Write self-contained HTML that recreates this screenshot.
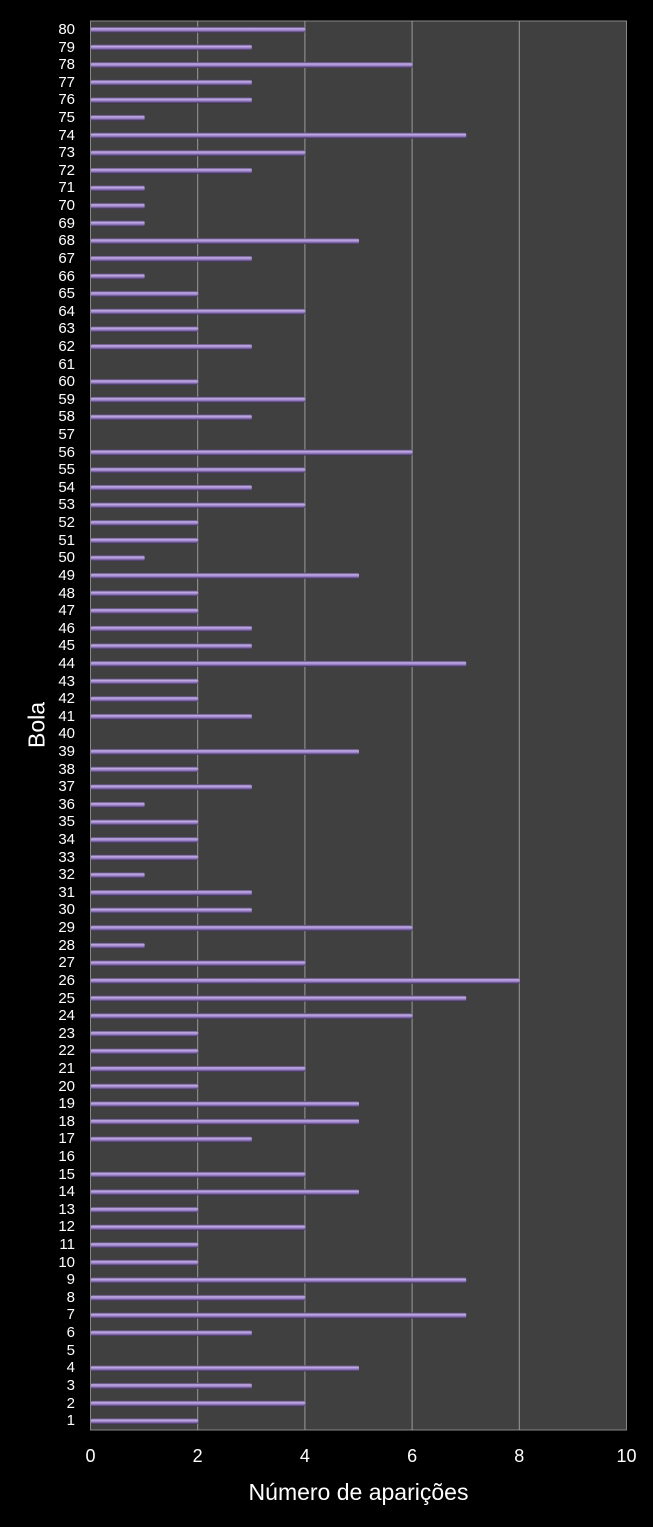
<!DOCTYPE html>
<html><head><meta charset="utf-8"><style>
body{margin:0;background:#000;width:653px;height:1527px;overflow:hidden;font-family:"Liberation Sans",sans-serif;color:#fff;position:relative}
#plot{position:absolute;left:0;top:0}
#labels{position:absolute;left:25px;top:21px;width:50px}
#labels div{height:17.6125px;line-height:17.6125px;text-align:right;font-size:15px}
.xt{position:absolute;top:1446px;font-size:18px;width:40px;margin-left:-20px;text-align:center}
#xtitle{position:absolute;top:1479px;left:90px;width:537px;text-align:center;font-size:23px}
#ytitle{position:absolute;left:37px;top:725px;transform:translate(-50%,-50%) rotate(-90deg);font-size:23px;white-space:nowrap}
</style></head><body>
<svg id="plot" width="653" height="1527">
<defs><linearGradient id="g" x1="0" y1="0" x2="0" y2="1">
<stop offset="0" stop-color="#4a3b66"/><stop offset="0.3" stop-color="#c3aee8"/><stop offset="0.6" stop-color="#9b80c8"/><stop offset="1" stop-color="#3a2d52"/></linearGradient></defs>
<rect x="90.5" y="21" width="536" height="1409" fill="#404040" stroke="#888" stroke-width="1"/>
<g id="grid" stroke="#9a9a9a" stroke-width="1"></g>
<g id="bars"></g>
</svg>
<div id="labels">
<div>80</div><div>79</div><div>78</div><div>77</div><div>76</div><div>75</div><div>74</div><div>73</div><div>72</div><div>71</div><div>70</div><div>69</div><div>68</div><div>67</div><div>66</div><div>65</div><div>64</div><div>63</div><div>62</div><div>61</div><div>60</div><div>59</div><div>58</div><div>57</div><div>56</div><div>55</div><div>54</div><div>53</div><div>52</div><div>51</div><div>50</div><div>49</div><div>48</div><div>47</div><div>46</div><div>45</div><div>44</div><div>43</div><div>42</div><div>41</div><div>40</div><div>39</div><div>38</div><div>37</div><div>36</div><div>35</div><div>34</div><div>33</div><div>32</div><div>31</div><div>30</div><div>29</div><div>28</div><div>27</div><div>26</div><div>25</div><div>24</div><div>23</div><div>22</div><div>21</div><div>20</div><div>19</div><div>18</div><div>17</div><div>16</div><div>15</div><div>14</div><div>13</div><div>12</div><div>11</div><div>10</div><div>9</div><div>8</div><div>7</div><div>6</div><div>5</div><div>4</div><div>3</div><div>2</div><div>1</div>
</div>
<div class="xt" style="left:90.5px">0</div><div class="xt" style="left:197.7px">2</div><div class="xt" style="left:304.9px">4</div><div class="xt" style="left:412.1px">6</div><div class="xt" style="left:519.3px">8</div><div class="xt" style="left:626.5px">10</div>
<div id="xtitle">Número de aparições</div>
<div id="ytitle">Bola</div>
<script>
var v=[2,4,3,5,0,3,7,4,7,2,2,4,2,5,4,0,3,5,5,2,4,2,2,6,7,8,4,1,6,3,3,1,2,2,2,1,3,2,5,0,3,2,2,7,3,3,2,2,5,1,2,2,4,3,4,6,0,3,4,2,0,3,2,4,2,1,3,5,1,1,1,3,4,7,1,3,3,6,3,4];
var ns="http://www.w3.org/2000/svg",u=53.6,x0=90.5;
var g=document.getElementById('grid');
for(var k=1;k<5;k++){var l=document.createElementNS(ns,'line');var x=x0+2*k*u;l.setAttribute('x1',x);l.setAttribute('x2',x);l.setAttribute('y1',21);l.setAttribute('y2',1430);g.appendChild(l);}
var b=document.getElementById('bars');
for(var i=0;i<80;i++){if(!v[i])continue;var y=1430-(i+0.5)*17.6125;var r=document.createElementNS(ns,'rect');
r.setAttribute('x',x0+0.5);r.setAttribute('y',y-3);r.setAttribute('width',v[i]*u);r.setAttribute('height',6);r.setAttribute('rx',2);r.setAttribute('fill','url(#g)');b.appendChild(r);}
</script>
</body></html>
